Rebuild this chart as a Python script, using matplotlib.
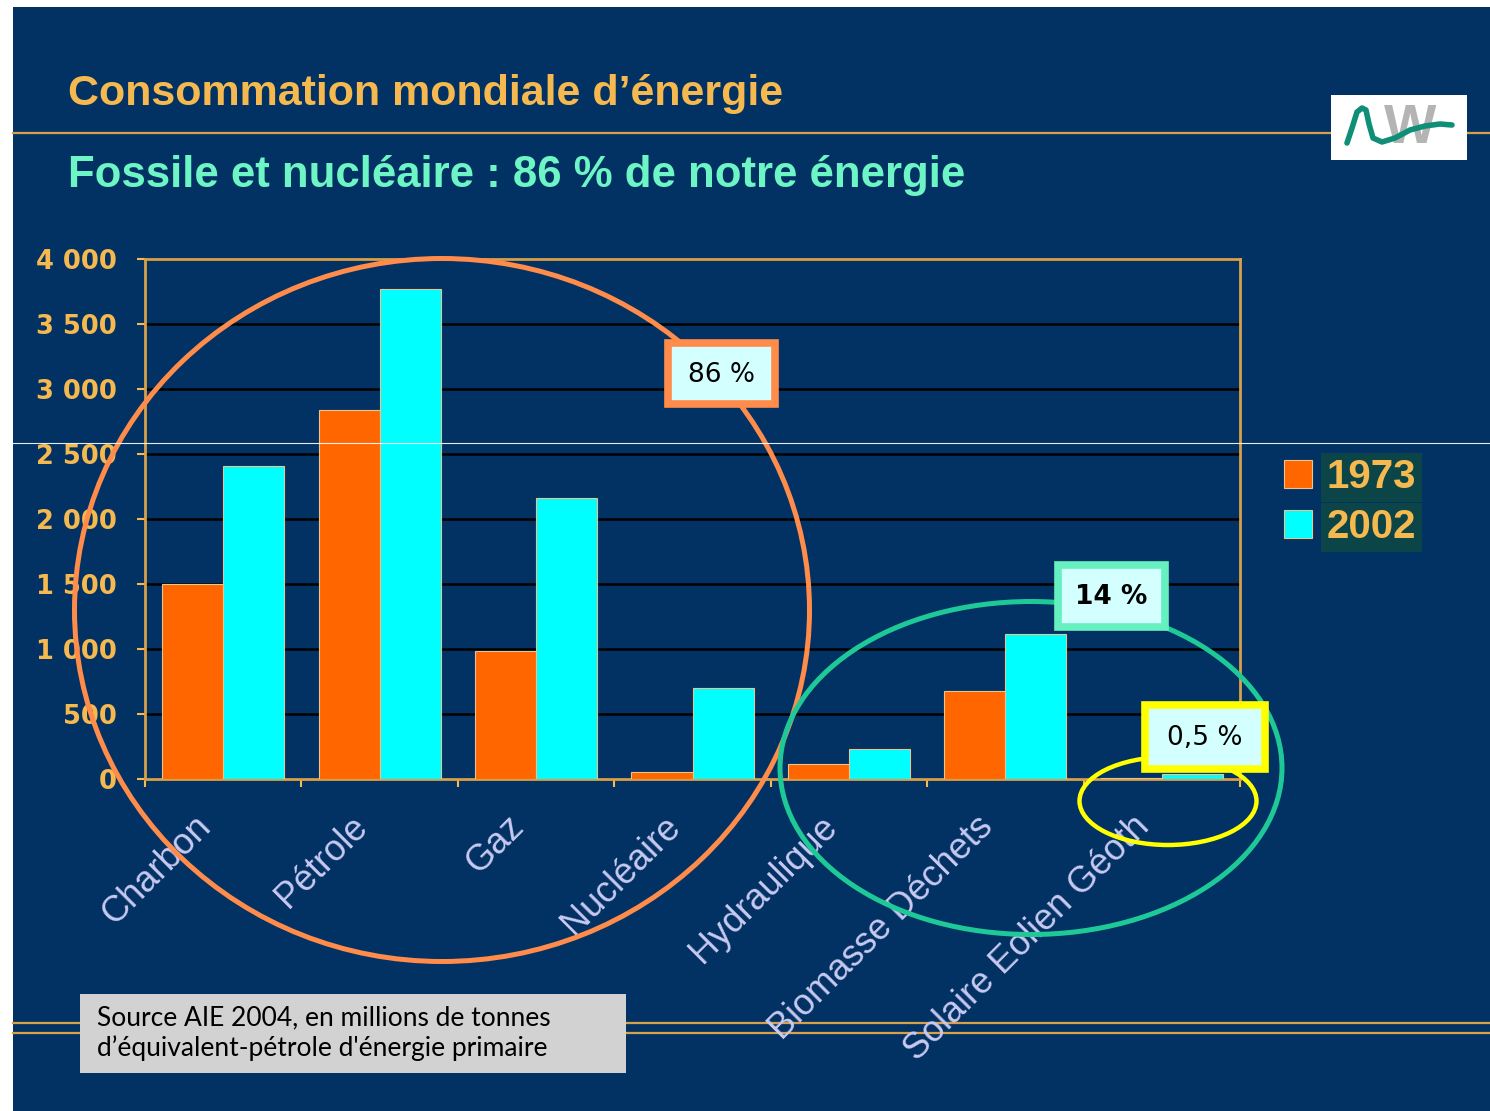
import matplotlib
matplotlib.use("Agg")
import matplotlib.pyplot as plt
from matplotlib.patches import Rectangle, Ellipse
from matplotlib.transforms import offset_copy
import numpy as np

# data (Mtep)
categories = ["Charbon", "Pétrole", "Gaz", "Nucléaire", "Hydraulique",
              "Biomasse Déchets", "Solaire Eolien Géoth"]
val_1973 = [1500, 2840, 985, 55, 115, 680, 5]
val_2002 = [2410, 3770, 2160, 700, 230, 1115, 40]
years = ["1973", "2002"]
yticks = [0, 500, 1000, 1500, 2000, 2500, 3000, 3500, 4000]
ytick_labels = ["0", "500", "1 000", "1 500", "2 000", "2 500", "3 000", "3 500", "4 000"]

title = "Consommation mondiale d’énergie"
subtitle = "Fossile et nucléaire : 86 % de notre énergie"
source = "Source AIE 2004, en millions de tonnes\nd’équivalent-pétrole d'énergie primaire"

NAVY = "#023263"
GOLD = "#f5b94f"
LINE_GOLD = "#d9a04a"
ORANGE = "#ff6600"
CYAN = "#00ffff"
W, H = 1490, 1111

fig = plt.figure(figsize=(W / 100, H / 100), dpi=100, facecolor="white")

# background layer in pixel coordinates
bg = fig.add_axes([0, 0, 1, 1], zorder=0)
bg.set_xlim(0, W)
bg.set_ylim(H, 0)
bg.axis("off")
bg.add_patch(Rectangle((13, 7), W - 13, H - 7, facecolor=NAVY, edgecolor="none", zorder=0))
bg.plot([13, W], [133, 133], color=LINE_GOLD, lw=1.6, zorder=1)
bg.plot([13, W], [1023, 1023], color=LINE_GOLD, lw=1.6, zorder=1)
bg.plot([13, W], [1033, 1033], color=LINE_GOLD, lw=1.6, zorder=1)

bg.text(68, 105, title, color=GOLD, fontsize=31, fontweight="bold",
        family="Liberation Sans", va="baseline")
bg.text(68, 187, subtitle, color="#6ef5c5", fontsize=31.5, fontweight="bold",
        family="Liberation Sans", va="baseline")

# logo
bg.add_patch(Rectangle((1331, 95), 136, 65, facecolor="white", edgecolor="none", zorder=3))
bg.text(1410, 129, "W", color="#b4b4b4", fontsize=40, fontweight="bold",
        ha="center", va="center", family="Liberation Sans", zorder=4)
lx = [1347, 1352, 1357, 1362, 1366, 1369, 1373, 1382, 1395, 1410, 1425, 1440, 1452]
ly = [143, 128, 112, 108, 110, 124, 138, 142, 138, 130, 126, 124, 125]
bg.plot(lx, ly, color="#0f8f78", lw=4, solid_capstyle="round", zorder=5)

# source box
bg.add_patch(Rectangle((80, 994), 546, 79, facecolor="#d2d2d2", edgecolor="none", zorder=3))
bg.text(97, 1005, source, color="black", fontsize=19, family="Lato",
        va="top", linespacing=1.25, zorder=4)

# main chart
ax = fig.add_axes([145 / W, 1 - 779 / H, 1095 / W, 520 / H], zorder=1)
ax.set_facecolor(NAVY)
x = np.arange(len(categories))
bw = 0.39
b1 = ax.bar(x - bw / 2, val_1973, bw, color=ORANGE, edgecolor="#e8c490", lw=0.8,
            label=years[0], zorder=3)
b2 = ax.bar(x + bw / 2, val_2002, bw, color=CYAN, edgecolor="#e8c490", lw=0.8,
            label=years[1], zorder=3)
ax.set_xlim(-0.5, len(categories) - 0.5)
ax.set_ylim(0, 4000)
ax.set_yticks(yticks)
ax.set_yticklabels(ytick_labels, color=GOLD, fontsize=18.5, fontweight="bold",
                   family="DejaVu Sans")
ax.yaxis.grid(True, color="black", lw=1.8, zorder=1)
ax.set_axisbelow(True)

# category labels: rotated text placed under each group
ax.set_xticks(np.arange(len(categories) + 1) - 0.5)
ax.set_xticklabels([])
lab_tr = offset_copy(ax.get_xaxis_transform(), fig=fig, x=-30, y=-30, units="dots")
for i, c in enumerate(categories):
    ax.text(i, 0, c, transform=lab_tr, rotation=45, ha="right", va="top",
            rotation_mode="anchor", color="#c8caf2", fontsize=26,
            family="Liberation Sans", clip_on=False)

ax.tick_params(axis="x", length=6, color=GOLD, width=1.5)
ax.tick_params(axis="y", length=6, color=GOLD, width=1.5, pad=14)
for s in ax.spines.values():
    s.set_color(LINE_GOLD)
    s.set_linewidth(2)

leg = fig.legend(handles=[b1, b2], loc="upper left",
                 bbox_to_anchor=(1248 / W, 1 - 422 / H), frameon=False,
                 prop={"family": "Liberation Sans", "weight": "bold", "size": 29},
                 handlelength=0.7, handleheight=0.7, handletextpad=0.35,
                 labelspacing=0.3, labelcolor=GOLD)
for t in leg.get_texts():
    t.set_bbox(dict(facecolor="#0b4547", edgecolor="none", pad=4))

# annotation overlay in pixel coordinates
ov = fig.add_axes([0, 0, 1, 1], zorder=2)
ov.set_xlim(0, W)
ov.set_ylim(H, 0)
ov.axis("off")
ov.plot([0, W], [443, 443], color="white", lw=0.8, alpha=0.9)
ov.add_patch(Ellipse((442, 610), 735, 703, fill=False, edgecolor="#ff8c4a", lw=3.6))
ov.add_patch(Ellipse((1031, 768), 502, 333, fill=False, edgecolor="#1fc997", lw=3.6))
ov.add_patch(Ellipse((1168, 801), 177, 88, fill=False, edgecolor="#ffff00", lw=3.2))

boxes = [("86 %", (665, 340, 113, 67), "#ff8c4a", "normal"),
         ("14 %", (1055, 562, 113, 68), "#66f0c0", "bold"),
         ("0,5 %", (1142, 702, 126, 70), "#ffff00", "normal")]
for txt, (bx, by, bw_, bh), ec, fw in boxes:
    ov.add_patch(Rectangle((bx + 3, by + 3), bw_ - 6, bh - 6, facecolor="#d4ffff",
                           edgecolor=ec, lw=5.5))
    ov.text(bx + bw_ / 2, by + bh / 2 + 1, txt, ha="center", va="center",
            fontsize=19, color="black", fontweight=fw, family="DejaVu Sans")

fig.savefig("out.png", dpi=100, facecolor=fig.get_facecolor())
